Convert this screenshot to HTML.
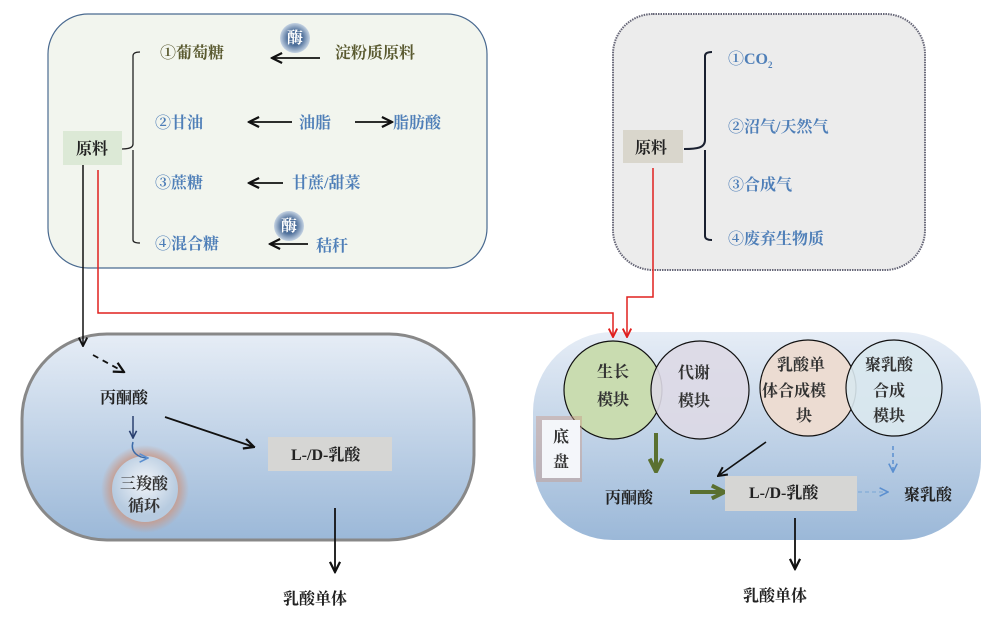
<!DOCTYPE html>
<html><head><meta charset="utf-8"><style>
html,body{margin:0;padding:0;background:#fff;}
svg{display:block;}
text{font-family:"Liberation Serif","Noto Serif CJK SC",serif;font-size:16px;font-weight:bold;}
</style></head><body>
<svg width="1003" height="617" viewBox="0 0 1003 617" xmlns="http://www.w3.org/2000/svg">
<defs>
<marker id="ab" viewBox="0 0 10 10" refX="9" refY="5" markerWidth="7" markerHeight="7" orient="auto"><path d="M1,1 L9,5 L1,9" fill="none" stroke="#111" stroke-width="1.8"/></marker>
<marker id="ar" viewBox="0 0 10 10" refX="9" refY="5" markerWidth="7" markerHeight="7" orient="auto"><path d="M1,1 L9,5 L1,9" fill="none" stroke="#e0201e" stroke-width="1.8"/></marker>
<marker id="ag" viewBox="0 0 10 10" refX="8" refY="5" markerWidth="4" markerHeight="4" orient="auto"><path d="M1,1 L9,5 L1,9" fill="none" stroke="#5a7030" stroke-width="2.5"/></marker>
<marker id="abl" viewBox="0 0 10 10" refX="9" refY="5" markerWidth="7" markerHeight="7" orient="auto"><path d="M1,1 L9,5 L1,9" fill="none" stroke="#5b8fd0" stroke-width="1.5"/></marker>
<marker id="adb" viewBox="0 0 10 10" refX="9" refY="5" markerWidth="6" markerHeight="6" orient="auto"><path d="M1,1 L9,5 L1,9" fill="none" stroke="#2a4070" stroke-width="1.8"/></marker>
<linearGradient id="cell" x1="0" y1="0" x2="0" y2="1"><stop offset="0" stop-color="#e6edf6"/><stop offset="1" stop-color="#9bb8d8"/></linearGradient>
<radialGradient id="enz"><stop offset="0.5" stop-color="#4e6f9a"/><stop offset="1" stop-color="#c5d3e3"/></radialGradient>
<radialGradient id="tca"><stop offset="0.7" stop-color="#c89a8a"/><stop offset="1" stop-color="#c89a8a" stop-opacity="0"/></radialGradient>
<radialGradient id="tcai" cx="0.5" cy="0.4"><stop offset="0" stop-color="#f2f5f9"/><stop offset="1" stop-color="#b7cbe0"/></radialGradient>
</defs>

<!-- top left box -->
<rect x="48" y="14" width="439" height="254" rx="40" fill="#f2f5ee" stroke="#4a6a90" stroke-width="1.2"/>
<rect x="63" y="131" width="59" height="34" fill="#dce9d6"/>
<text x="76" y="154" fill="#222">原料</text>
<path d="M122,149 C130,149 133,147 133,144 L133,56 C133,53 136,52 140,52 M133,150 L133,240 C133,242 136,243 140,243" fill="none" stroke="#222" stroke-width="1.3"/>
<text x="160" y="58" fill="#5a5a30">①葡萄糖</text>
<circle cx="295" cy="38" r="15" fill="url(#enz)"/>
<text x="287" y="43" fill="#fff" font-size="13">酶</text>
<line x1="320" y1="58" x2="272" y2="58" stroke="#111" stroke-width="1.8" marker-end="url(#ab)"/>
<text x="335" y="58" fill="#5a5a30">淀粉质原料</text>
<text x="155" y="128" fill="#4f7fb8">②甘油</text>
<line x1="292" y1="122" x2="249" y2="122" stroke="#111" stroke-width="1.8" marker-end="url(#ab)"/>
<text x="299" y="128" fill="#4f7fb8">油脂</text>
<line x1="355" y1="122" x2="392" y2="122" stroke="#111" stroke-width="1.8" marker-end="url(#ab)"/>
<text x="393" y="128" fill="#4f7fb8">脂肪酸</text>
<text x="155" y="188" fill="#4f7fb8">③蔗糖</text>
<line x1="283" y1="183" x2="249" y2="183" stroke="#111" stroke-width="1.8" marker-end="url(#ab)"/>
<text x="292" y="188" fill="#4f7fb8">甘蔗/甜菜</text>
<text x="155" y="249" fill="#4f7fb8">④混合糖</text>
<circle cx="289" cy="226" r="15" fill="url(#enz)"/>
<text x="281" y="231" fill="#fff" font-size="13">酶</text>
<line x1="308" y1="244" x2="270" y2="244" stroke="#111" stroke-width="1.8" marker-end="url(#ab)"/>
<text x="316" y="251" fill="#4f7fb8">秸秆</text>

<!-- top right box -->
<rect x="613" y="14" width="312" height="256" rx="40" fill="#ececec" stroke="#667" stroke-width="2" stroke-dasharray="1.5,1"/>
<rect x="623" y="130" width="60" height="33" fill="#d9d6cc"/>
<text x="635" y="153" fill="#222">原料</text>
<path d="M684,149 C697,149 705,148 705,140 L705,56 C705,53 708,52 712,52 M705,150 L705,236 C705,239 708,240 712,240" fill="none" stroke="#1a2030" stroke-width="2"/>
<text x="728" y="64" fill="#4f7fb8">①CO<tspan font-size="9" dy="4">2</tspan></text>
<text x="728" y="132" fill="#4f7fb8">②沼气/天然气</text>
<text x="728" y="190" fill="#4f7fb8">③合成气</text>
<text x="728" y="244" fill="#4f7fb8">④废弃生物质</text>

<!-- bottom left cell -->
<rect x="22" y="334" width="452" height="206" rx="85" fill="url(#cell)" stroke="#888" stroke-width="3"/>
<line x1="93" y1="355" x2="124" y2="372" stroke="#111" stroke-width="1.8" stroke-dasharray="6,5" marker-end="url(#ab)"/>
<text x="100" y="403" fill="#222">丙酮酸</text>
<line x1="133" y1="416" x2="133" y2="438" stroke="#2a4070" stroke-width="1.5" marker-end="url(#adb)"/>
<circle cx="145" cy="489" r="44" fill="url(#tca)"/>
<circle cx="145" cy="489" r="33" fill="url(#tcai)"/>
<path d="M133,442 C130,452 138,458 148,458" fill="none" stroke="#3a6aa8" stroke-width="1.5" marker-end="url(#abl)"/>
<text x="120" y="489" fill="#333">三羧酸</text>
<text x="128" y="511" fill="#333">循环</text>
<line x1="165" y1="417" x2="254" y2="447" stroke="#111" stroke-width="1.8" marker-end="url(#ab)"/>
<rect x="268" y="437" width="124" height="34" fill="#d6d6d4"/>
<text x="291" y="460" fill="#222">L-/D-乳酸</text>
<line x1="335" y1="508" x2="335" y2="572" stroke="#111" stroke-width="1.8" marker-end="url(#ab)"/>
<text x="283" y="604" fill="#222">乳酸单体</text>

<!-- bottom right cell -->
<rect x="533" y="332" width="448" height="208" rx="80" fill="url(#cell)"/>
<circle cx="613" cy="390" r="49" fill="#c9dcb0" stroke="#111" stroke-width="1.2"/>
<circle cx="700" cy="390" r="49" fill="#ddd9e6" fill-opacity="0.9" stroke="#111" stroke-width="1.2"/>
<circle cx="808" cy="388" r="48" fill="#ecdcd2" stroke="#111" stroke-width="1.2"/>
<circle cx="894" cy="388" r="48" fill="#d9e8ee" fill-opacity="0.9" stroke="#111" stroke-width="1.2"/>
<text x="597" y="377" fill="#333">生长</text><text x="597" y="405" fill="#333">模块</text>
<text x="678" y="378" fill="#333">代谢</text><text x="678" y="406" fill="#333">模块</text>
<text x="777" y="370" fill="#333">乳酸单</text><text x="762" y="396" fill="#333">体合成模</text><text x="796" y="421" fill="#333">块</text>
<text x="865" y="370" fill="#333">聚乳酸</text><text x="873" y="396" fill="#333">合成</text><text x="873" y="421" fill="#333">模块</text>
<rect x="536" y="416" width="46" height="66" fill="#c89a8a" opacity="0.45"/>
<rect x="542" y="420" width="38" height="58" fill="#f4f6fa"/>
<text x="553" y="442" fill="#333">底</text><text x="553" y="467" fill="#333">盘</text>
<line x1="656" y1="433" x2="656" y2="470" stroke="#5a7030" stroke-width="4" marker-end="url(#ag)"/>
<text x="605" y="503" fill="#222">丙酮酸</text>
<line x1="690" y1="492" x2="723" y2="492" stroke="#5a7030" stroke-width="4" marker-end="url(#ag)"/>
<line x1="766" y1="442" x2="718" y2="476" stroke="#111" stroke-width="1.6" marker-end="url(#ab)"/>
<rect x="725" y="476" width="132" height="35" fill="#d6d6d4"/>
<text x="749" y="498" fill="#222">L-/D-乳酸</text>
<line x1="893" y1="446" x2="893" y2="472" stroke="#5b8fd0" stroke-width="1.5" stroke-dasharray="4,3" marker-end="url(#abl)"/>
<line x1="858" y1="492" x2="888" y2="492" stroke="#8ab0d8" stroke-width="1.5" stroke-dasharray="4,3" marker-end="url(#abl)"/>
<text x="904" y="500" fill="#222">聚乳酸</text>
<line x1="795" y1="518" x2="795" y2="569" stroke="#111" stroke-width="1.8" marker-end="url(#ab)"/>
<text x="743" y="601" fill="#222">乳酸单体</text>

<!-- connectors on top -->
<line x1="83" y1="165" x2="83" y2="346" stroke="#111" stroke-width="1.5" marker-end="url(#ab)"/>
<polyline points="98,170 98,313 613,313 613,337" fill="none" stroke="#e0201e" stroke-width="1.5" marker-end="url(#ar)"/>
<polyline points="653,168 653,297 627,297 627,337" fill="none" stroke="#e0201e" stroke-width="1.5" marker-end="url(#ar)"/>
</svg>
</body></html>
